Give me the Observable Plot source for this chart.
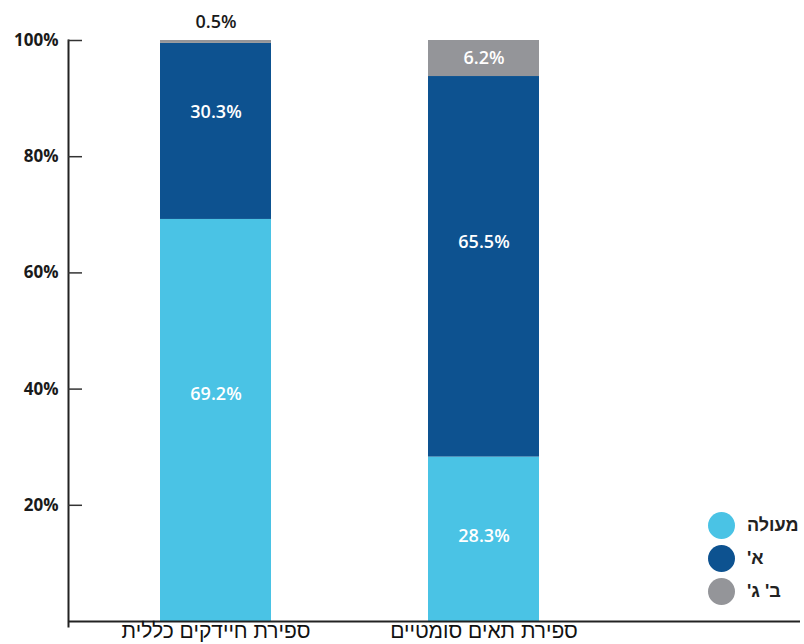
<!DOCTYPE html>
<html><head><meta charset="utf-8">
<script src="https://cdn.jsdelivr.net/npm/d3@7"></script>
<script src="https://cdn.jsdelivr.net/npm/@observablehq/plot@0.6"></script>
<style>
body{margin:0;background:#fff;}
#wrap{position:relative;width:804px;height:644px;}
.legend{position:absolute;left:708px;top:509px;font-family:"Liberation Sans",sans-serif;font-weight:bold;font-size:18px;color:#222}
.item{display:flex;align-items:center;height:33px}
.sw{width:27px;height:27px;border-radius:50%;margin-right:12px}
</style></head><body><div id="wrap"></div>
<script>
const categories = ["ספירת חיידקים כללית", "ספירת תאים סומטיים"];
const grades = ["מעולה", "א'", "ב' ג'"];
const excellent = [69.2, 28.3];
const gradeA = [30.3, 65.5];
const gradeBC = [0.5, 6.2];
const yTicks = [20, 40, 60, 80, 100];
const colors = ["#4ac3e5", "#0d5290", "#949599"];

const series = [excellent, gradeA, gradeBC];
const rows = [];
categories.forEach((cat, i) => {
  let base = 0;
  grades.forEach((g, j) => {
    const v = series[j][i];
    rows.push({cat, grade: g, value: v, base});
    base += v;
  });
});

const labelY = d => d.base + d.value * (d.value >= 50 ? 0.565 : d.value >= 30 ? 0.61 : 0.52);
const inside = rows.filter(d => d.value >= 2);
const above = rows.filter(d => d.value < 2);

const numFont = "'Open Sans', sans-serif";

const chart = Plot.plot({
  width: 804,
  height: 644,
  marginTop: 40,
  marginBottom: 23,
  marginLeft: 68,
  marginRight: 4,
  style: {fontFamily: numFont, background: "#fff", color: "#1a1a1a"},
  x: {domain: categories, range: [160, 539], paddingInner: 0.586, paddingOuter: 0, align: 0},
  y: {domain: [0, 100]},
  color: {domain: grades, range: colors},
  marks: [
    Plot.barY(rows, Plot.stackY({x: "cat", y: "value", fill: "grade", order: grades})),
    Plot.text(inside, {x: "cat", y: labelY, text: d => d.value.toFixed(1) + "%", fill: "white", fontSize: 18, fontWeight: 600, fontFamily: numFont, letterSpacing: "0.5px"}),
    Plot.text(above, {x: "cat", y: d => d.base + d.value, dy: -18, text: d => d.value.toFixed(1) + "%", fill: "#1a1a1a", fontSize: 18, fontWeight: 600, fontFamily: numFont, letterSpacing: "0.5px"}),
    Plot.ruleY([0], {stroke: "#222", strokeWidth: 2}),
    Plot.frame({anchor: "left", stroke: "#222", strokeWidth: 2, insetBottom: -5}),
    Plot.axisY(yTicks, {tickSize: -14, tickPadding: 24, tickFormat: d => d + "%", fontSize: 17, fontWeight: 700, fill: "#1a1a1a", stroke: "#333", strokeWidth: 1.5, label: null}),
    Plot.axisX({tickSize: 0, tickPadding: 2, fontSize: 21, fontFamily: "'Liberation Sans', sans-serif", fill: "#111", label: null})
  ]
});

const wrap = document.getElementById("wrap");
wrap.appendChild(chart);

const legend = document.createElement("div");
legend.className = "legend";
grades.forEach((g, j) => {
  const item = document.createElement("div");
  item.className = "item";
  const sw = document.createElement("span");
  sw.className = "sw";
  sw.style.background = colors[j];
  const lab = document.createElement("span");
  lab.dir = "rtl";
  lab.textContent = g;
  item.appendChild(sw);
  item.appendChild(lab);
  legend.appendChild(item);
});
wrap.appendChild(legend);
</script>
</body></html>
